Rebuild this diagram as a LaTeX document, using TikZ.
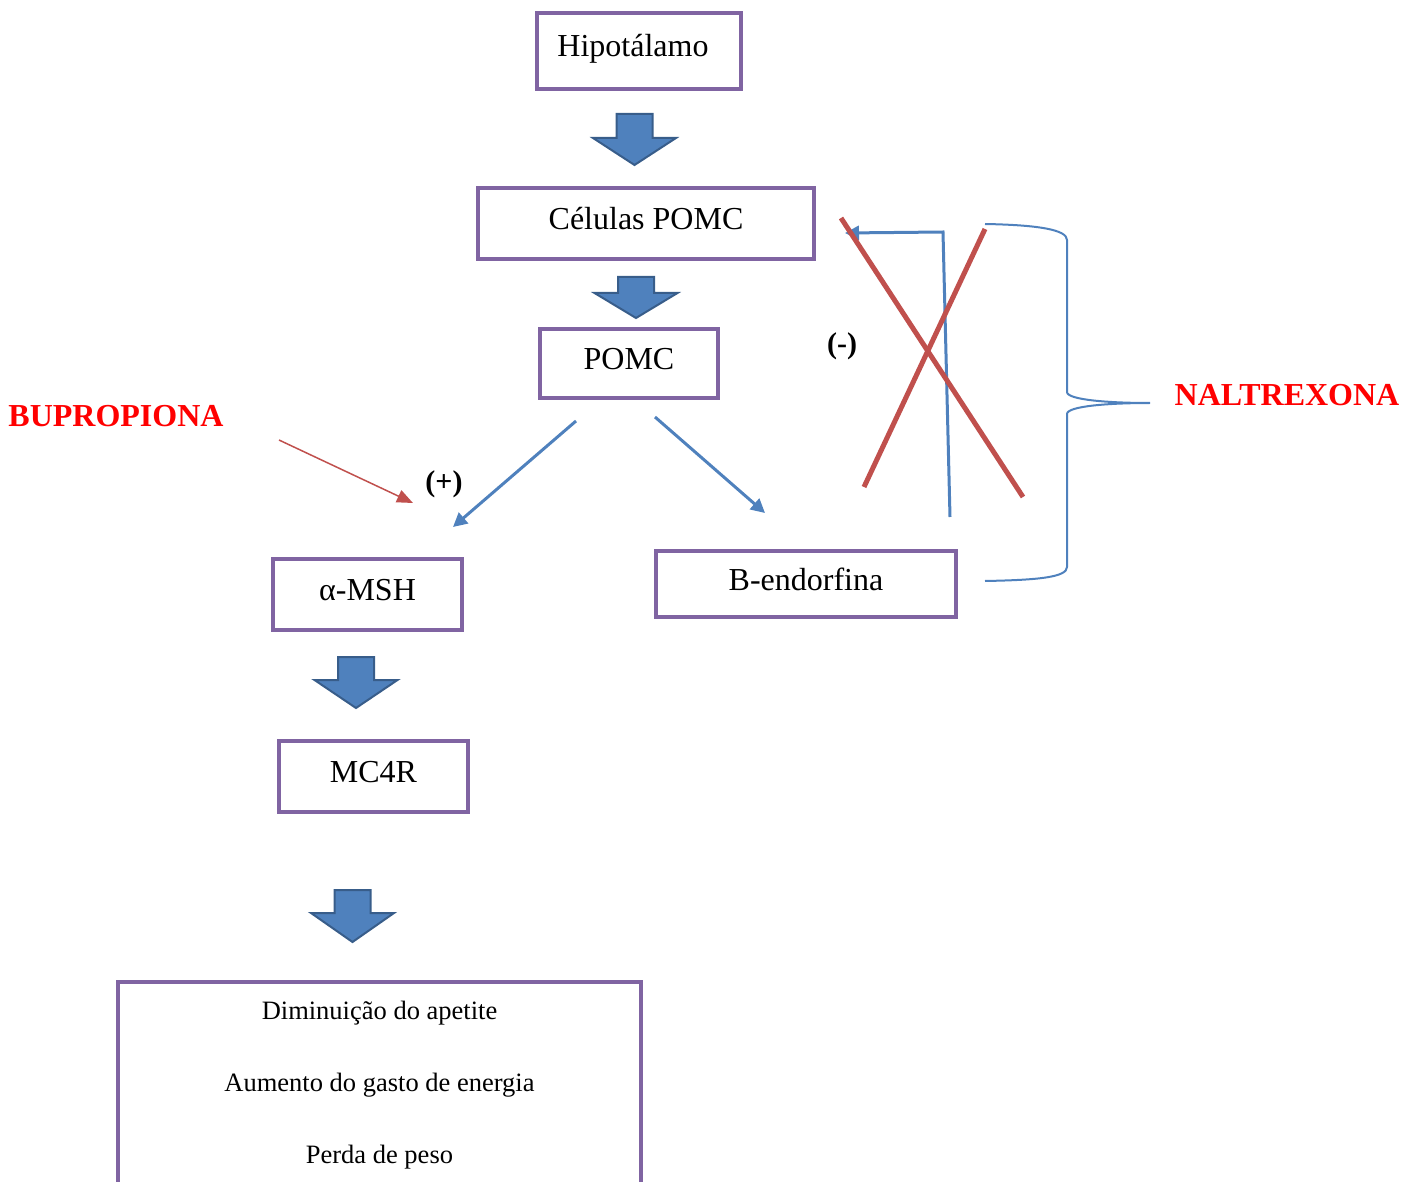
\documentclass[tikz,border=0pt]{standalone}
\usepackage{fontspec}
\setmainfont{Liberation Serif}
\usetikzlibrary{arrows.meta,positioning,calc}
\definecolor{boxline}{HTML}{8064A2}
\definecolor{flow}{HTML}{4F81BD}
\definecolor{flowdark}{HTML}{385D8A}
\definecolor{block}{HTML}{C0504D}
\definecolor{drug}{HTML}{FF0000}
\tikzset{
  >=Latex,
  every node/.style={font=\fontsize{16}{19}\selectfont,text=black},
  box/.style={draw=boxline,line width=2pt,fill=white,align=center,inner sep=0pt,minimum height=35.5pt,text height=11pt,text depth=5pt},
  downarrow/.style={fill=flow,draw=flowdark,line width=1pt,line join=miter},
  link/.style={-{Triangle[length=7pt,width=7pt]},line width=1.5pt,draw=flow},
  drugarr/.style={-{Triangle[length=8pt,width=6.5pt]},line width=0.75pt,draw=block},
  cross/.style={line width=2.5pt,draw=block},
  brace/.style={line width=1pt,draw=flow},
  drugname/.style={font=\fontsize{16}{19}\selectfont\bfseries,text=drug},
  sign/.style={font=\fontsize{15}{18}\selectfont\bfseries},
  efftext/.style={font=\fontsize{13.25}{36}\selectfont,align=center},
}
\newcommand{\downblock}[3]{\draw[downarrow,shift={(#1)}] (-18,0) -- (18,0) -- (18,#2) -- (41.5,#2) -- (0,#3) -- (-41.5,#2) -- (-18,#2) -- cycle;}

\begin{document}
\begin{tikzpicture}[x=0.5pt,y=-0.5pt]
\useasboundingbox (0,0) rectangle (1415,1182);
% boxes
\node[box,minimum width=102pt,minimum height=38pt] (hipo) at (639,51) {Hipotálamo\hspace*{6pt}};
\node[box,minimum width=168pt] (cells) at (646,223.5) {Células POMC};
\node[box,minimum width=89pt,minimum height=34.5pt] (pomc) at (629,363.5) {POMC};
\node[box,minimum width=94.5pt] (amsh) at (367.5,594.5) {α-MSH};
\node[box,minimum width=94.5pt] (mc4r) at (373.5,776.5) {MC4R};
\node[box,minimum width=150pt,minimum height=33pt] (bend) at (806,584) {B-endorfina};
\node[box,minimum width=261.5pt,minimum height=150pt,anchor=north] (effects) at (379.5,980) {};
\node[efftext] (efflist) at (379.5,1085) {Diminuição do apetite\\Aumento do gasto de energia\\Perda de peso};
% labels
\node[drugname] (bup) at (116,416) {BUPROPIONA};
\node[drugname] (nal) at (1287,395) {NALTREXONA};
\node[sign] (plus) at (444,484) {(+)};
\node[sign] (minus) at (842,346) {(-)};
% block arrows
\downblock{$(hipo.south)+(-4.5,23)$}{24}{51}
\downblock{$(cells.south)+(-10,16)$}{16}{41}
\downblock{$(amsh.south)+(-11.5,25)$}{23}{51}
\downblock{$(mc4r.south)+(-21,76)$}{23}{52}
% pomc splits
\draw[link] ($(pomc.south)+(-53,21)$) -- ($(amsh.north)+(85.5,-30)$);
\draw[link] ($(pomc.south)+(26,17)$) -- ($(bend.north)+(-41,-36)$);
\draw[drugarr] ($(bup)+(163,24)$) -- ($(plus)+(-31,19)$);
% feedback blocked by naltrexona
\coordinate (fbfoot) at ($(bend.north east)+(-8,-32)$);
\coordinate (fbtop) at (943,232);
\draw[link] (fbfoot) -- (fbtop) -- ($(cells.east)+(29,9.5)$);
\draw[cross] (841,218) -- (1023,497);
\draw[cross] (985,229) -- (864,487);
\coordinate (brtop) at (985,224);
\coordinate (brbot) at (985,581);
\coordinate (brtip) at (1150,403);
\draw[brace] (brtop) .. controls (1040,225) and (1067,230) .. (1067,240) -- (1067,392)
  .. controls (1067,400) and (1110,403) .. (brtip)
  .. controls (1110,403) and (1067,406) .. (1067,414) -- (1067,567)
  .. controls (1067,577) and (1040,580) .. (brbot);
\end{tikzpicture}
\end{document}
